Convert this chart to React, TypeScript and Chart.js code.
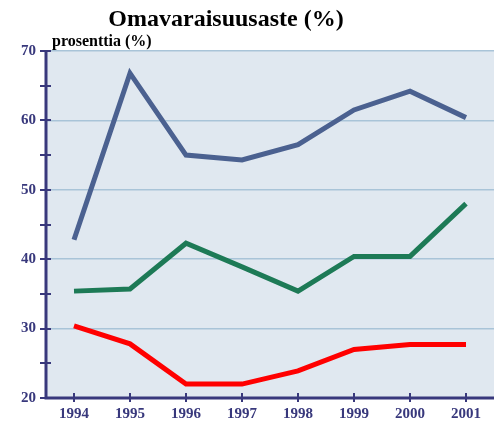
import React, { useEffect, useRef } from "react";
import { Chart, registerables } from "chart.js";

Chart.register(...registerables);

const years = ["1994", "1995", "1996", "1997", "1998", "1999", "2000", "2001"];
const blueSeries = [42.8, 66.8, 55.0, 54.3, 56.5, 61.5, 64.2, 60.4];
const greenSeries = [35.4, 35.7, 42.3, 38.9, 35.4, 40.4, 40.4, 48.0];
const redSeries = [30.4, 27.8, 22.0, 22.0, 23.9, 27.0, 27.7, 27.7];
const titleText = "Omavaraisuusaste (%)";
const unitText = "prosenttia (%)";

const NAVY = "#38387c";
const SERIF = '"Liberation Serif", "Times New Roman", serif';

const decorPlugin = {
  id: "decor",
  beforeDraw(chart: any) {
    const { ctx, chartArea } = chart;
    ctx.save();
    ctx.fillStyle = "#e0e8f0";
    ctx.fillRect(chartArea.left, chartArea.top, chartArea.right - chartArea.left, chartArea.bottom - chartArea.top);
    ctx.restore();
  },
  afterDraw(chart: any) {
    const { ctx, chartArea } = chart;
    const xs = chart.scales.x;
    const ys = chart.scales.y;
    ctx.save();
    ctx.strokeStyle = NAVY;
    ctx.lineWidth = 3;
    ctx.beginPath();
    ctx.moveTo(chartArea.left, chartArea.top);
    ctx.lineTo(chartArea.left, chartArea.bottom);
    ctx.lineTo(chartArea.right, chartArea.bottom);
    ctx.stroke();
    ctx.lineWidth = 2;
    ctx.beginPath();
    for (let v = 20; v <= 70; v += 5) {
      const y = Math.round(ys.getPixelForValue(v));
      ctx.moveTo(chartArea.left - 6, y);
      ctx.lineTo(chartArea.left + 5, y);
    }
    for (let i = 0; i < years.length; i++) {
      const x = Math.round(xs.getPixelForValue(i));
      ctx.moveTo(x, chartArea.bottom - 5);
      ctx.lineTo(x, chartArea.bottom + 4);
    }
    ctx.stroke();
    ctx.fillStyle = "#000";
    ctx.textBaseline = "alphabetic";
    ctx.textAlign = "center";
    ctx.font = `bold 24px ${SERIF}`;
    ctx.fillText(titleText, 226, 26);
    ctx.textAlign = "left";
    ctx.font = `bold 16px ${SERIF}`;
    ctx.fillText(unitText, 52, 46);
    ctx.restore();
  },
};

export default function App() {
  const ref = useRef<HTMLCanvasElement | null>(null);
  useEffect(() => {
    document.body.style.margin = "0";
    const canvas = ref.current!;
    const mk = (data: number[], color: string) => ({
      data,
      borderColor: color,
      backgroundColor: color,
      borderWidth: 5,
      pointRadius: 0,
      tension: 0,
      borderCapStyle: "butt",
      borderJoinStyle: "miter",
    });
    const chart = new Chart(canvas, {
      type: "line",
      data: {
        labels: years,
        datasets: [mk(blueSeries, "#4b6190"), mk(greenSeries, "#1d7a56"), mk(redSeries, "#ff0000")],
      },
      plugins: [decorPlugin],
      options: {
        animation: false,
        responsive: false,
        layout: { padding: { top: 51, right: 0, left: 0, bottom: 0 } },
        plugins: { legend: { display: false }, title: { display: false }, tooltip: { enabled: false } },
        scales: {
          x: {
            offset: true,
            grid: { display: false, drawTicks: false },
            border: { display: false },
            ticks: { color: NAVY, font: { family: SERIF, size: 15, weight: "bold" }, padding: 7 },
            afterFit: (s: any) => { s.height = 23; },
          },
          y: {
            min: 20,
            max: 70,
            grid: {
              drawTicks: false,
              color: (c: any) => (c.tick && c.tick.value % 10 === 0 && c.tick.value > 20 ? "#a9c4d8" : "rgba(0,0,0,0)"),
              lineWidth: 1.5,
            },
            border: { display: false },
            ticks: {
              stepSize: 5,
              color: NAVY,
              font: { family: SERIF, size: 15, weight: "bold" },
              padding: 10,
              callback: (v: any) => (Number(v) % 10 === 0 ? String(v) : ""),
            },
            afterFit: (s: any) => { s.width = 46; },
          },
        },
      } as any,
    });
    return () => chart.destroy();
  }, []);
  return (
    <div style={{ width: 494, height: 421, overflow: "hidden" }}>
      <canvas ref={ref} width={494} height={421} style={{ display: "block" }} />
    </div>
  );
}
